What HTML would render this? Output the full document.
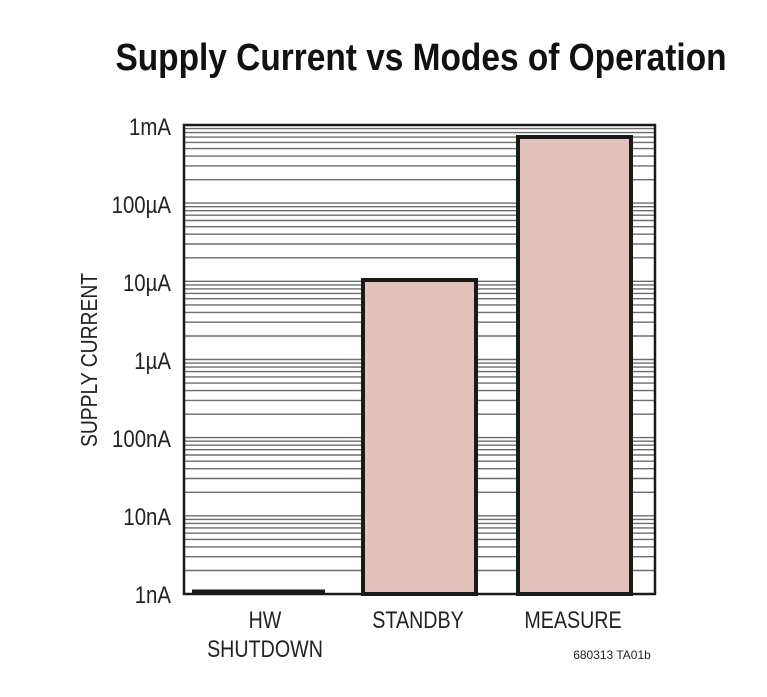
<!DOCTYPE html>
<html><head><meta charset="utf-8"><style>
html,body{margin:0;padding:0;background:#fff;}
svg{display:block;}
</style></head><body>
<svg width="767" height="697" xmlns="http://www.w3.org/2000/svg" xmlns:xlink="http://www.w3.org/1999/xlink">
<defs>
<g id="dec" stroke="#6d6d6d" stroke-width="1.4">
<line x1="184" x2="655" y1="-23.5" y2="-23.5"/>
<line x1="184" x2="655" y1="-37.3" y2="-37.3"/>
<line x1="184" x2="655" y1="-47.1" y2="-47.1"/>
<line x1="184" x2="655" y1="-54.6" y2="-54.6"/>
<line x1="184" x2="655" y1="-60.8" y2="-60.8"/>
<line x1="184" x2="655" y1="-66.1" y2="-66.1"/>
<line x1="184" x2="655" y1="-70.6" y2="-70.6"/>
<line x1="184" x2="655" y1="-74.6" y2="-74.6"/>
<line x1="184" x2="655" y1="-78.2" y2="-78.2"/>
</g>
</defs>
<text x="421" y="70" text-anchor="middle" font-family="Liberation Sans, sans-serif" font-weight="bold" font-size="38" transform="translate(421 0) scale(0.88 1) translate(-421 0)" fill="#111">Supply Current vs Modes of Operation</text>
<use xlink:href="#dec" transform="translate(0 594)"/>
<use xlink:href="#dec" transform="translate(0 515.8)"/>
<use xlink:href="#dec" transform="translate(0 437.7)"/>
<use xlink:href="#dec" transform="translate(0 359.5)"/>
<use xlink:href="#dec" transform="translate(0 281.3)"/>
<use xlink:href="#dec" transform="translate(0 203.2)"/>
<rect x="184" y="125" width="471" height="469" fill="none" stroke="#1a1a1a" stroke-width="2.5"/>
<rect x="192" y="589.5" width="133" height="5" fill="#1a1a1a"/>
<rect x="363" y="280" width="113" height="314" fill="#e3c1bc" stroke="#1a1a1a" stroke-width="4"/>
<rect x="518" y="137" width="113" height="457" fill="#e3c1bc" stroke="#1a1a1a" stroke-width="4"/>
<g font-family="Liberation Sans, sans-serif" font-size="24" fill="#222" text-anchor="end" transform="translate(171 0) scale(0.85 1) translate(-171 0)">
<text x="171" y="135">1mA</text>
<text x="171" y="213">100µA</text>
<text x="171" y="291">10µA</text>
<text x="171" y="369">1µA</text>
<text x="171" y="447">100nA</text>
<text x="171" y="525">10nA</text>
<text x="171" y="603">1nA</text>
</g>
<g font-family="Liberation Sans, sans-serif" font-size="24" fill="#222" text-anchor="middle">
<text x="265" y="628" transform="translate(265 0) scale(0.82 1) translate(-265 0)">HW</text>
<text x="265" y="657" transform="translate(265 0) scale(0.82 1) translate(-265 0)">SHUTDOWN</text>
<text x="418" y="628" transform="translate(418 0) scale(0.82 1) translate(-418 0)">STANDBY</text>
<text x="573" y="628" transform="translate(573 0) scale(0.82 1) translate(-573 0)">MEASURE</text>
<text transform="translate(97 360) rotate(-90) scale(0.84 1)" font-size="23">SUPPLY CURRENT</text>
</g>
<text x="612" y="659" text-anchor="middle" font-family="Liberation Sans, sans-serif" font-size="12" fill="#222">680313 TA01b</text>
</svg>
</body></html>
